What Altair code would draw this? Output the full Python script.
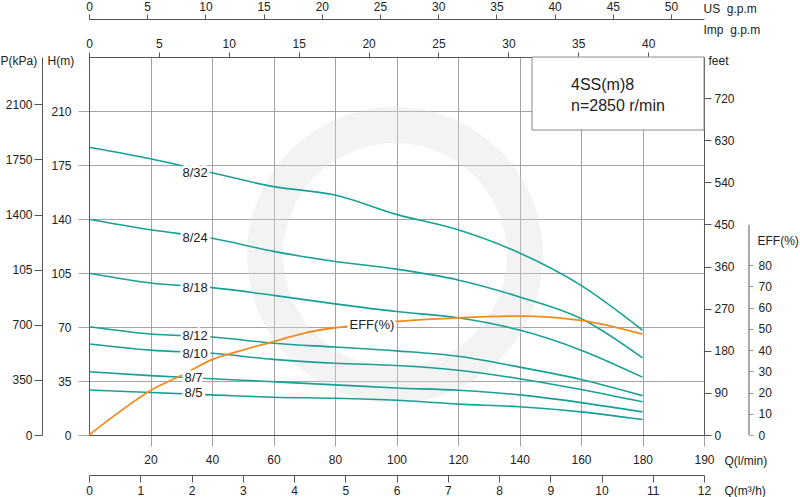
import altair as alt
import pandas as pd

# ---------------- data ----------------
Q = [0, 20, 40, 60, 80, 100, 120, 140, 160, 180]          # l/min
curve_names = ["8/32", "8/24", "8/18", "8/12", "8/10", "8/7", "8/5"]
H_8_32 = [186.5, 179, 170, 161, 155.5, 143, 133, 118, 97, 68]
H_8_24 = [139.8, 133, 127.5, 119, 112.5, 107.5, 100.5, 89.5, 75.5, 50]
H_8_18 = [104.8, 98.5, 95.5, 90.5, 85, 80, 76, 68, 55, 37.5]
H_8_12 = [70.2, 65.5, 63.5, 59.5, 57, 54.5, 51, 44, 36, 25.5]
H_8_10 = [59, 55, 53, 49, 46.5, 45, 42, 36.5, 29.5, 21.5]
H_8_7 = [41, 38.5, 36.5, 34.5, 32.5, 30.5, 29, 26, 21, 15]
H_8_5 = [29.2, 27.5, 26, 24.5, 23.8, 22.5, 20, 18.3, 15, 10]

eff_Q = [0, 10, 20, 30, 40, 50, 60, 70, 80, 90, 100, 120, 140, 160, 180]
eff_vals = [0, 11, 21, 28, 35.5, 40, 44, 48, 50.5, 52, 53.5, 55.2, 56, 54, 47.5]

label_Q = [34.5, 34.5, 34.5, 34.5, 34.5, 34, 34]
label_H = [169.8, 127.7, 95.3, 64.2, 52.5, 36.7, 27.0]
eff_label_Q = [92]
eff_label_val = [51.8]
eff_label_text = ["EFF(%)"]

H_ticks = [0, 35, 70, 105, 140, 175, 210]
P_ticks = [0, 350, 700, 1050, 1400, 1750, 2100]
feet_ticks = [0, 90, 180, 270, 360, 450, 540, 630, 720]
eff_ticks = [0, 10, 20, 30, 40, 50, 60, 70, 80]
Q_ticks = [20, 40, 60, 80, 100, 120, 140, 160, 180, 200]
US_ticks = [0, 5, 10, 15, 20, 25, 30, 35, 40, 45, 50]
Imp_ticks = [0, 5, 10, 15, 20, 25, 30, 35, 40]
m3h_ticks = [0, 1, 2, 3, 4, 5, 6, 7, 8, 9, 10, 11, 12]

box_lines = ["4SS(m)8", "n=2850 r/min"]

# ---------------- tables ----------------
rows = []
for name, hs in zip(curve_names, [H_8_32, H_8_24, H_8_18, H_8_12, H_8_10, H_8_7, H_8_5]):
    for q, h in zip(Q, hs):
        rows.append({"curve": name, "Q": q, "H": h})
curves_df = pd.DataFrame(rows)
labels_df = pd.DataFrame({"curve": curve_names, "Q": label_Q, "H": label_H})
eff_df = pd.DataFrame({"Q": eff_Q, "eff": eff_vals})
eff_lab_df = pd.DataFrame({"Q": eff_label_Q, "eff": eff_label_val, "t": eff_label_text})

FONT = "Liberation Sans"
TEAL = "#17a096"
ORANGE = "#f08c1e"
GRID = "#a3a3a3"
AXIS = "#555555"
TXT = "#222222"

x_Q = alt.Scale(domain=[0, 200], nice=False, zero=True)
y_H = alt.Scale(domain=[0, 245], nice=False, zero=True)
y_eff = alt.Scale(domain=[0, 178], nice=False, zero=True)


def ax(**kw):
    base = dict(labelFont=FONT, labelFontSize=12, labelColor=TXT, titleFont=FONT,
                titleFontSize=12, titleFontWeight="normal", titleColor=TXT,
                domainColor=AXIS, tickColor=AXIS, titleAngle=0, titleAlign="left",
                titleBaseline="middle", grid=False, labelFlush=False, labelOverlap=False)
    base.update(kw)
    return alt.Axis(**base)


one = pd.DataFrame({"a": [0]})
# faint watermark ring in the background
watermark = alt.Chart(one).mark_arc(theta=0, theta2=6.2832, innerRadius=112, outerRadius=148,
                                    color="#dcdcdc", opacity=0.35).encode(
    x=alt.value(306), y=alt.value(198))

curves = alt.Chart(curves_df).mark_line(color=TEAL, strokeWidth=1.6, interpolate="monotone").encode(
    x=alt.X("Q:Q", scale=x_Q, axis=ax(values=Q_ticks, labelExpr="datum.value == 200 ? '190' : datum.label",
                                       tickSize=11, tickColor=GRID, grid=True, gridColor=GRID,
                                       labelPadding=8, title="Q(l/min)", titleX=635, titleY=25)),
    y=alt.Y("H:Q", scale=y_H, axis=ax(values=H_ticks, tickSize=11, tickColor=GRID, grid=True,
                                       gridColor=GRID, labelPadding=7, title="H(m)",
                                       titleX=-42, titleY=3)),
    detail="curve:N",
)

halo = alt.Chart(labels_df).mark_text(font=FONT, fontSize=13, fill="white", stroke="white",
                                      strokeWidth=6, align="center", baseline="middle").encode(
    x=alt.X("Q:Q", scale=x_Q, axis=None), y=alt.Y("H:Q", scale=y_H, axis=None), text="curve:N")
labels = alt.Chart(labels_df).mark_text(font=FONT, fontSize=13, fill=TXT, align="center",
                                        baseline="middle").encode(
    x=alt.X("Q:Q", scale=x_Q, axis=None), y=alt.Y("H:Q", scale=y_H, axis=None), text="curve:N")

eff_line = alt.Chart(eff_df).mark_line(color=ORANGE, strokeWidth=1.8, interpolate="monotone").encode(
    x=alt.X("Q:Q", scale=x_Q, axis=None),
    y=alt.Y("eff:Q", scale=y_eff, axis=ax(orient="right", offset=45, values=eff_ticks, domain=False,
                                           tickSize=4, tickColor="#999999", labelPadding=5,
                                           title="EFF(%)", titleX=8, titleY=183)),
)
eff_halo = alt.Chart(eff_lab_df).mark_text(font=FONT, fontSize=13, fill="white", stroke="white",
                                           strokeWidth=6, align="center", baseline="middle").encode(
    x=alt.X("Q:Q", scale=x_Q, axis=None), y=alt.Y("eff:Q", scale=y_eff, axis=None), text="t:N")
eff_text = alt.Chart(eff_lab_df).mark_text(font=FONT, fontSize=13, fill=TXT, align="center",
                                           baseline="middle").encode(
    x=alt.X("Q:Q", scale=x_Q, axis=None), y=alt.Y("eff:Q", scale=y_eff, axis=None), text="t:N")
eff_rule = alt.Chart(pd.DataFrame({"lo": [0], "hi": [99]})).mark_rule(color=AXIS, strokeWidth=1).encode(
    x=alt.value(660), y=alt.Y("lo:Q", scale=y_eff, axis=None), y2="hi:Q")

p_axis = alt.Chart(pd.DataFrame({"P": [0, 2400]})).mark_point(opacity=0).encode(
    y=alt.Y("P:Q", scale=alt.Scale(domain=[0, 2400], nice=False),
            axis=ax(orient="left", offset=47, values=P_ticks,
                    labelExpr="datum.value == 1050 ? '105' : format(datum.value, 'd')",
                    tickSize=8, labelPadding=2, title="P(kPa)", titleX=-42, titleY=3)))

feet_axis = alt.Chart(pd.DataFrame({"ft": [0, 808]})).mark_point(opacity=0).encode(
    y=alt.Y("ft:Q", scale=alt.Scale(domain=[0, 808], nice=False),
            axis=ax(orient="right", offset=0, values=feet_ticks, tickSize=7, labelPadding=3,
                    title="feet", titleX=4, titleY=3)))

us_axis = alt.Chart(pd.DataFrame({"us": [0, 52.834]})).mark_point(opacity=0).encode(
    x=alt.X("us:Q", scale=alt.Scale(domain=[0, 52.834], nice=False),
            axis=ax(orient="top", offset=38, values=US_ticks, tickSize=5, labelPadding=1,
                    title="US\u00a0\u00a0g.p.m", titleX=614, titleY=-11)))

imp_axis = alt.Chart(pd.DataFrame({"imp": [0, 43.994]})).mark_point(opacity=0).encode(
    x=alt.X("imp:Q", scale=alt.Scale(domain=[0, 43.994], nice=False),
            axis=ax(orient="top", offset=0, values=Imp_ticks, tickSize=5, labelPadding=2,
                    title="Imp\u00a0\u00a0g.p.m", titleX=614, titleY=-28)))

m3h_axis = alt.Chart(pd.DataFrame({"m3h": [0, 12]})).mark_point(opacity=0).encode(
    x=alt.X("m3h:Q", scale=alt.Scale(domain=[0, 12], nice=False),
            axis=ax(orient="bottom", offset=40, values=m3h_ticks, tickSize=7, labelPadding=3,
                    title="Q(m\u00b3/h)", titleX=635, titleY=15)))

box = alt.Chart(one).mark_rect(fill="white", stroke="#8a8a8a", strokeWidth=1).encode(
    x=alt.value(443), x2=alt.value(615), y=alt.value(0), y2=alt.value(73))
box_t1 = alt.Chart(one).mark_text(font=FONT, fontSize=16, fill=TXT, align="left", baseline="middle",
                                  text=box_lines[0]).encode(x=alt.value(482), y=alt.value(28))
box_t2 = alt.Chart(one).mark_text(font=FONT, fontSize=16, fill=TXT, align="left", baseline="middle",
                                  text=box_lines[1]).encode(x=alt.value(482), y=alt.value(49))

chart = alt.layer(
    watermark, curves, eff_line, halo, labels, eff_halo, eff_text, box, box_t1, box_t2,
    p_axis, feet_axis, eff_rule, us_axis, imp_axis, m3h_axis,
).resolve_scale(x="independent", y="independent").properties(
    width=615, height=378,
    autosize=alt.AutoSizeParams(type="none"),
    padding={"left": 89, "top": 57, "right": 96, "bottom": 62},
    background="white",
).configure_view(stroke=None)

chart.save("out.html", embed_options={"renderer": "svg", "actions": False})
